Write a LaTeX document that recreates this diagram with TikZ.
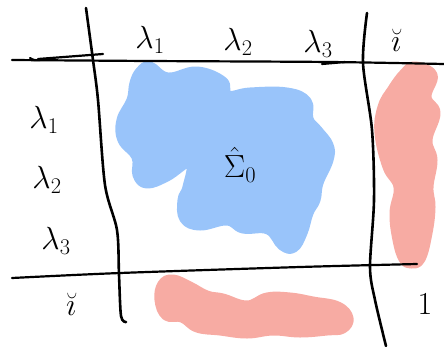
\RequirePackage{fix-cm}
\documentclass[tikz,border=0pt]{standalone}
\usepackage{amsmath,amssymb}
\usepackage{tikz}
\usetikzlibrary{calc,positioning}
\definecolor{blobblue}{HTML}{99C4FA}
\definecolor{blobred}{HTML}{F7ABA3}

\begin{document}
\begin{tikzpicture}[x=1pt, y=-1pt,
	pen/.style={line width=2.6pt, line cap=round, line join=round},
	thinpen/.style={line width=2.2pt, line cap=round, line join=round},
	lbl/.style={inner sep=0pt, font=\fontsize{32}{38}\selectfont},
	blob/.style={line width=9pt, line join=round}]
\useasboundingbox (0,0) rectangle (444,346);

% blocks
\filldraw[blobblue, blob] plot[smooth cycle, tension=0.7] coordinates {
	(150,66) (168,77) (197,71) (223,81) (228,95) (250,92) (287,92) (307,101)
	(309,119) (318,130) (329,145) (329,160) (319,183) (316,200) (309,213)
	(303,233) (294,248) (282,246) (268,230) (243,229) (227,221) (200,226)
	(184,219) (182,200) (187,187) (190,163) (167,177) (147,184) (137,175)
	(136,157) (122,140) (121,120) (131,100) (134,83) (140,71)};
\filldraw[blobred, blob] plot[smooth cycle, tension=0.7] coordinates {
	(415,66) (433,75) (427,97) (436,113) (428,140) (433,160) (429,187)
	(431,207) (428,233) (421,259) (411,264) (403,259) (397,240) (394,213)
	(398,187) (387,167) (379,133) (382,107) (392,89) (404,73)};
\filldraw[blobred, blob] plot[smooth cycle, tension=0.7] coordinates {
	(162,284) (173,279) (190,286) (207,295) (223,298) (247,305) (267,297)
	(290,297) (313,301) (338,306) (349,318) (343,329) (327,331) (300,333)
	(273,331) (247,334) (220,331) (197,328) (182,318) (166,316) (159,300)};

% grid strokes
\draw[thinpen] plot[smooth, tension=0.5] coordinates {(12,60) (150,61) (330,62) (444,64)};
\draw[thinpen] plot[smooth] coordinates {(30,58) (34,60) (40,60)};
\draw[thinpen] (38,59) -- (103,54);
\draw[thinpen] (322,64) -- (345,62);
\draw[thinpen] plot[smooth, tension=0.5] coordinates {(12,278) (120,273) (300,267) (417,264)};
\draw[pen] plot[smooth, tension=0.5] coordinates {(86,8) (93,60) (98,100) (105,185) (117,230) (119,275) (121,316) (126,322)};
\draw[pen] plot[smooth, tension=0.5] coordinates {(367,13) (363,63) (372,130) (374,200) (370,267) (375,300) (386,346)};

% labels
\node[lbl] (colA) at (150,40) {$\lambda_1$};
\node[lbl] (colB) at (238,42) {$\lambda_2$};
\node[lbl] (colC) at (318,44) {$\lambda_3$};
\node[lbl] (colD) at (396,40) {$\breve{\imath}$};
\node[lbl] (rowA) at (44,120) {$\lambda_1$};
\node[lbl] (rowB) at (47,180) {$\lambda_2$};
\node[lbl] (rowC) at (56,241) {$\lambda_3$};
\node[lbl] (rowD) at (71,304) {$\breve{\imath}$};
\node[lbl] (sig) at (240,165) {$\hat{\Sigma}_0$};
\node[lbl] (one) at (425,304) {$1$};
\end{tikzpicture}
\end{document}
